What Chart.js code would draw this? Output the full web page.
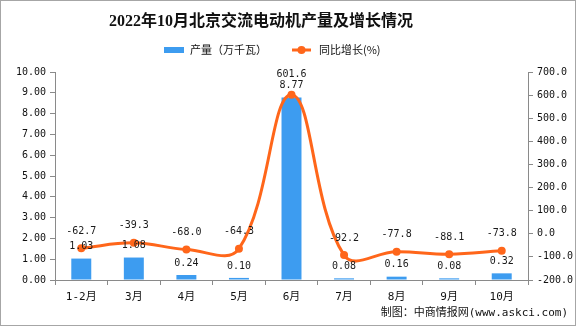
<!DOCTYPE html>
<html>
<head>
<meta charset="utf-8">
<script src="https://cdn.jsdelivr.net/npm/chart.js@4/dist/chart.umd.min.js"></script>
<style>
html,body{margin:0;padding:0;background:#fff;}
#wrap{width:576px;height:327px;}
</style>
</head>
<body>
<div id="wrap"><canvas id="motorChart" width="576" height="327"></canvas></div>
<script>
//----------北京交流电动机产量----------

var months = ["1-2月","3月","4月","5月","6月","7月","8月","9月","10月"];
var output = [1.03, 1.08, 0.24, 0.10, 8.77, 0.08, 0.16, 0.08, 0.32];      // 万千瓦
var growth = [-62.7, -39.3, -68.0, -64.3, 601.6, -92.2, -77.8, -88.1, -73.8]; // %
var outputAxis = [0, 10, 1];      // min, max, step
var growthAxis = [-200, 700, 100];

var barColor = '#3d9cf0';
var lineColor = '#ff661a';
var axisColor = '#8a8a8a';
var monoFont = '"DejaVu Sans Mono", "Noto Sans CJK SC"';

// value labels above bars and points
var valueLabels = {
	id: 'valueLabels',
	afterDatasetsDraw: function(chart){
		var ctx = chart.ctx;
		var bars = chart.getDatasetMeta(0).data;
		var pts = chart.getDatasetMeta(1).data;
		ctx.save();
		ctx.font = '10px ' + monoFont;
		ctx.fillStyle = '#1a1a1a';
		ctx.textAlign = 'center';
		ctx.textBaseline = 'middle';
		for (var i = 0; i < bars.length; i++){
			var by = bars[i].y - 12;
			var ly = pts[i].y - 17;
			if (Math.abs(ly - by) < 11) ly = by - 11;
			ctx.fillText(output[i].toFixed(2), bars[i].x, by);
			ctx.fillText(growth[i].toFixed(1), pts[i].x, ly);
		}
		ctx.restore();
	}
};

// title, legend, source, frame
var decor = {
	id: 'decor',
	beforeDraw: function(chart){
		var ctx = chart.ctx;
		ctx.save();
		ctx.fillStyle = '#fff';
		ctx.fillRect(0, 0, chart.width, chart.height);
		ctx.strokeStyle = '#a6a6a6';
		ctx.lineWidth = 1;
		ctx.strokeRect(0.5, 0.5, chart.width - 1, chart.height - 2);
		ctx.restore();
	},
	afterDraw: function(chart){
		var ctx = chart.ctx;
		ctx.save();
		ctx.textBaseline = 'middle';
		ctx.fillStyle = '#111';
		ctx.textAlign = 'center';
		ctx.font = 'bold 16px "Liberation Serif", "Noto Sans CJK SC"';
		ctx.fillText('2022年10月北京交流电动机产量及增长情况', 261, 22);

		// legend
		ctx.textAlign = 'left';
		ctx.font = '11px "Noto Sans CJK SC"';
		ctx.fillStyle = barColor;
		ctx.fillRect(164, 47, 20, 6);
		ctx.fillStyle = '#111';
		ctx.fillText('产量（万千瓦）', 190, 50);
		ctx.strokeStyle = lineColor;
		ctx.lineWidth = 3;
		ctx.beginPath();
		ctx.moveTo(292, 50);
		ctx.lineTo(311, 50);
		ctx.stroke();
		ctx.fillStyle = lineColor;
		ctx.beginPath();
		ctx.arc(301.5, 50, 4, 0, Math.PI * 2);
		ctx.fill();
		ctx.fillStyle = '#111';
		ctx.fillText('同比增长(%)', 319, 50);

		// source
		ctx.textAlign = 'right';
		ctx.font = '11px ' + monoFont;
		ctx.fillText('制图：中商情报网(www.askci.com)', 568, 313);
		ctx.restore();
	}
};

var ctx = document.getElementById('motorChart').getContext('2d');
var myChart = new Chart(ctx, {
	type: 'bar',
	data: {
		labels: months,
		datasets: [
		{
			label: '产量（万千瓦）',
			data: output,
			backgroundColor: barColor,
			yAxisID: 'y',
			categoryPercentage: 1,
			barPercentage: 0.38,
			order: 1
		},
		{
			type: 'line',
			label: '同比增长(%)',
			data: growth,
			borderColor: lineColor,
			backgroundColor: lineColor,
			borderWidth: 3,
			pointRadius: 4,
			pointBackgroundColor: lineColor,
			pointBorderWidth: 0,
			tension: 0.4,
			fill: false,
			yAxisID: 'y1',
			order: 0
		}
		]
	},
	options: {
		responsive: false,
		animation: false,
		layout: { padding: { top: 72, left: 0, right: 0, bottom: 0 } },
		plugins: {
			legend: { display: false },
			title: { display: false },
			tooltip: { enabled: false }
		},
		scales: {
			x: {
				grid: { drawOnChartArea: false, tickLength: 5, color: axisColor, offset: true },
				border: { color: axisColor },
				ticks: { font: { family: monoFont, size: 11 }, color: '#111', padding: 6, maxRotation: 0 },
				afterFit: function(s){ s.height = 47; }
			},
			y: {
				position: 'left',
				min: outputAxis[0], max: outputAxis[1],
				grid: { drawOnChartArea: false, tickLength: 5, color: axisColor },
				border: { color: axisColor },
				ticks: { stepSize: outputAxis[2], padding: 4, color: '#111', font: { family: monoFont, size: 10 },
					callback: function(v){ return v.toFixed(2); } },
				afterFit: function(s){ s.width = 55; }
			},
			y1: {
				position: 'right',
				min: growthAxis[0], max: growthAxis[1],
				grid: { drawOnChartArea: false, tickLength: 5, color: axisColor },
				border: { color: axisColor },
				ticks: { stepSize: growthAxis[2], padding: 4, color: '#111', font: { family: monoFont, size: 10 },
					callback: function(v){ return v.toFixed(1); } },
				afterFit: function(s){ s.width = 48; }
			}
		}
	},
	plugins: [valueLabels, decor]
});
</script>
</body>
</html>
